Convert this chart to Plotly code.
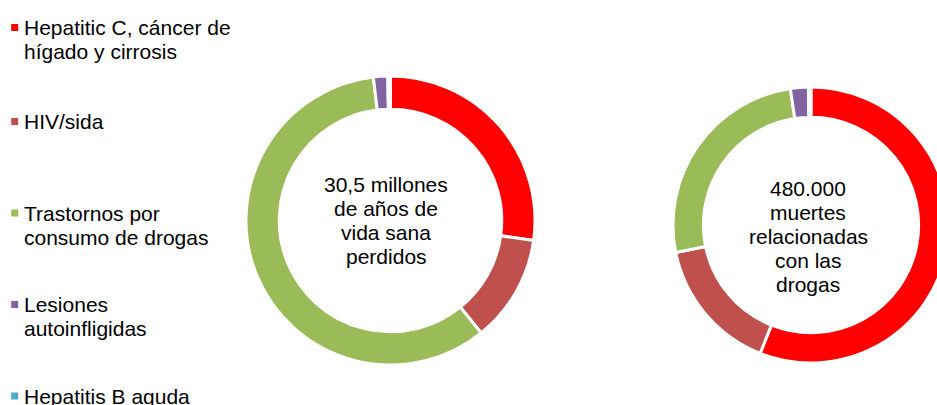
import plotly.graph_objects as go

# Causes of burden attributed to drug use (legend text, one entry per line)
categories = [
    ["Hepatitic C, cáncer de", "hígado y cirrosis"],
    ["HIV/sida"],
    ["Trastornos por", "consumo de drogas"],
    ["Lesiones", "autoinfligidas"],
    ["Hepatitis B aguda"],
]
colors = ["#FF0000", "#C0504D", "#9BBB59", "#8064A2", "#4BACC6"]

# Share (%) of healthy life years lost
dalys_share = [27.2, 12.0, 58.9, 1.6, 0.3]
# Share (%) of drug-related deaths
deaths_share = [56.0, 15.8, 25.8, 2.1, 0.3]

center_labels = [
    ["30,5 millones", "de años de", "vida sana", "perdidos"],
    ["480.000", "muertes", "relacionadas", "con las", "drogas"],
]

W, H = 960, 405
FONT = "Liberation Sans, Arial, sans-serif"
TEXT_SIZE = 21
LINE_STEP = 24


def dom_x(a, b):
    return [a / W, b / W]


def dom_y(top, bottom):
    return [1 - bottom / H, 1 - top / H]


names = [" ".join(c) for c in categories]
fig = go.Figure()

fig.add_trace(go.Pie(
    values=dalys_share, labels=names,
    marker=dict(colors=colors, line=dict(color="white", width=3)),
    hole=0.77, sort=False, direction="clockwise", rotation=0,
    textinfo="none", hoverinfo="label+percent", showlegend=False,
    domain=dict(x=dom_x(246, 535), y=dom_y(76, 365)),
))

fig.add_trace(go.Pie(
    values=deaths_share, labels=names,
    marker=dict(colors=colors, line=dict(color="white", width=3)),
    hole=0.78, sort=False, direction="clockwise", rotation=0,
    textinfo="none", hoverinfo="label+percent", showlegend=False,
    domain=dict(x=dom_x(673, 949), y=dom_y(87, 363)),
))

# Legend: square swatches plus text on a hidden pixel-like axis
legend_y = [27.5, 121.5, 213, 304.5, 396]
fig.add_trace(go.Scatter(
    x=[14.7] * len(categories), y=legend_y, mode="markers",
    marker=dict(symbol="square", size=7, color=colors, line=dict(width=0)),
    hoverinfo="skip", showlegend=False, xaxis="x", yaxis="y",
))

annotations = []
for lines, y0 in zip(categories, legend_y):
    for i, line in enumerate(lines):
        annotations.append(dict(
            x=22, y=y0 + i * LINE_STEP, xref="x", yref="y", text=line,
            showarrow=False, xanchor="left", yanchor="middle",
            font=dict(family=FONT, size=TEXT_SIZE, color="black"),
        ))

# Centre captions inside each ring
for lines, cx, cy0 in zip(center_labels, [386, 808], [184, 188]):
    for i, line in enumerate(lines):
        annotations.append(dict(
            x=cx, y=cy0 + i * LINE_STEP, xref="x", yref="y", text=line,
            showarrow=False, xanchor="center", yanchor="middle",
            font=dict(family=FONT, size=TEXT_SIZE, color="black"),
        ))

fig.update_layout(
    width=W, height=H,
    margin=dict(l=0, r=0, t=0, b=0),
    paper_bgcolor="white", plot_bgcolor="rgba(0,0,0,0)",
    xaxis=dict(range=[0, W], visible=False, fixedrange=True),
    yaxis=dict(range=[H, 0], visible=False, fixedrange=True),
    annotations=annotations,
)

fig.write_html("out.html")
